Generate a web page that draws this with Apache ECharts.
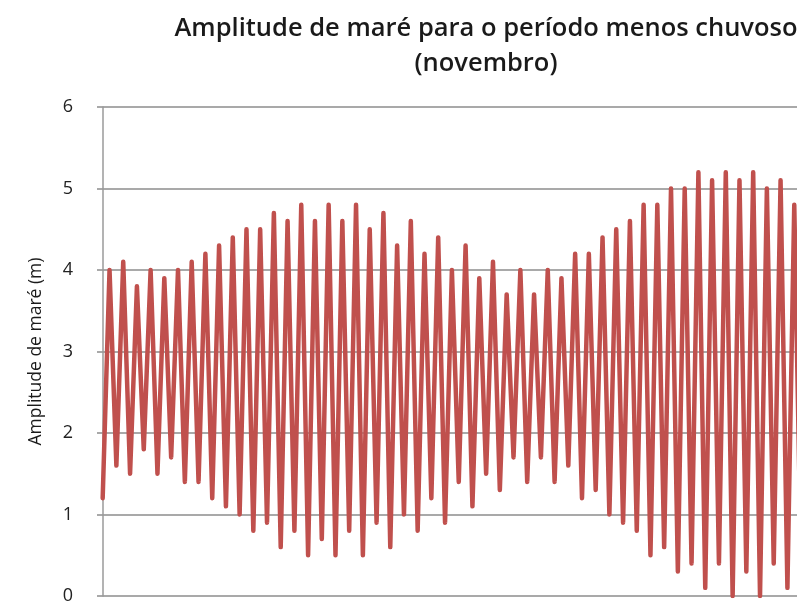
<!DOCTYPE html>
<html>
<head>
<meta charset="utf-8">
<script src="https://cdn.jsdelivr.net/npm/echarts@6/dist/echarts.min.js"></script>
<style>html,body{margin:0;padding:0;background:#fff}#c{width:797px;height:605px}</style>
</head>
<body>
<div id="c"></div>
<script>
// Successive low and high water levels (m), alternating low, high, low, high...
const lows = [1.2,1.6,1.5,1.8,1.5,1.7,1.4,1.4,1.2,1.1,1.0,0.8,0.9,0.6,0.8,0.5,0.7,0.5,0.8,0.5,0.9,0.6,1.0,0.8,1.2,0.9,1.4,1.1,1.5,1.3,1.7,1.4,1.7,1.4,1.6,1.2,1.3,1.0,0.9,0.8,0.5,0.6,0.3,0.4,0.1,0.4,0.0,0.3,0.0,0.4,0.1,0.3];
const highs = [4.0,4.1,3.8,4.0,3.9,4.0,4.1,4.2,4.3,4.4,4.5,4.5,4.7,4.6,4.8,4.6,4.8,4.6,4.8,4.5,4.7,4.3,4.6,4.2,4.4,4.0,4.3,3.9,4.1,3.7,4.0,3.7,4.0,3.9,4.2,4.2,4.4,4.5,4.6,4.8,4.8,5.0,5.0,5.2,5.1,5.2,5.1,5.2,5.0,5.1,4.8];
const yTicks = [0,1,2,3,4,5,6];
const titleText = 'Amplitude de maré para o período menos chuvoso\n(novembro)';
const yName = 'Amplitude de maré (m)';

const series = [];
for (let i = 0; i < lows.length; i++) {
  series.push([series.length, lows[i]]);
  if (i < highs.length) series.push([series.length, highs[i]]);
}

const chart = echarts.init(document.getElementById('c'), null, {renderer: 'canvas'});
chart.setOption({
  animation: false,
  backgroundColor: '#ffffff',
  title: {
    text: titleText,
    left: 481, top: 6,
    textAlign: 'center',
    textStyle: {fontFamily: 'Open Sans', fontWeight: 600, fontSize: 25.5, lineHeight: 35, color: '#1a1a1a'}
  },
  grid: {left: 97, top: 107, bottom: 7, right: 0, containLabel: false},
  xAxis: {
    type: 'value', min: -0.83, max: 101.4,
    axisLine: {show: false}, axisTick: {show: false}, axisLabel: {show: false}, splitLine: {show: false}
  },
  yAxis: {
    type: 'value', min: yTicks[0], max: yTicks[yTicks.length - 1], interval: 1,
    name: yName, nameLocation: 'middle', nameGap: 52,
    nameTextStyle: {fontFamily: 'Open Sans', fontSize: 17.5, color: '#1a1a1a'},
    axisLine: {show: true, lineStyle: {color: '#9a9a9a', width: 1.5}},
    axisTick: {show: false},
    axisLabel: {fontFamily: 'Open Sans', fontSize: 18, color: '#222', margin: 24},
    splitLine: {show: true, lineStyle: {color: '#8c8c8c', width: 1.5}}
  },
  series: [{
    type: 'line', data: series, showSymbol: false, symbol: 'none',
    lineStyle: {color: '#c0504d', width: 4.5, cap: 'round', join: 'round'},
    clip: true
  }]
});
</script>
</body>
</html>
